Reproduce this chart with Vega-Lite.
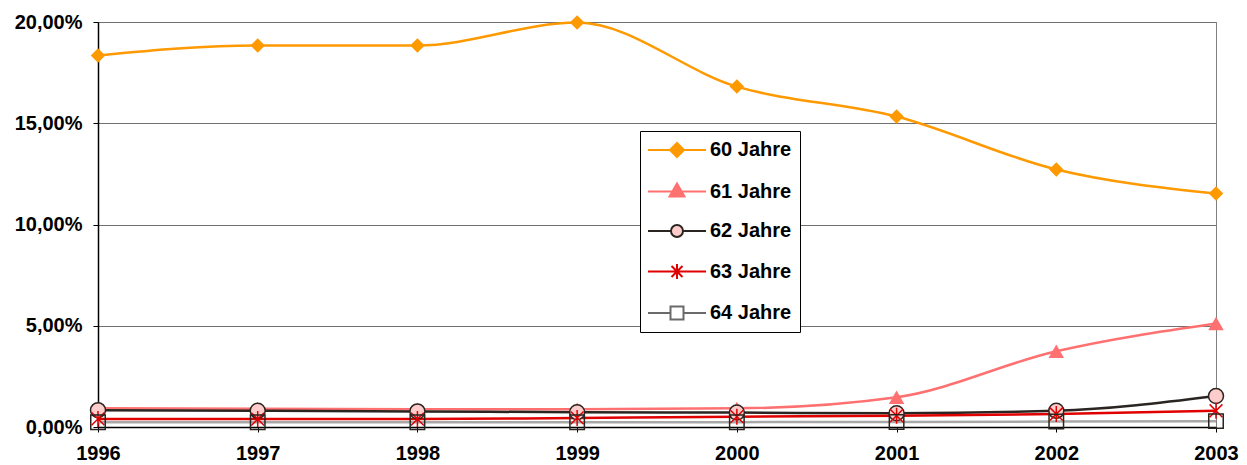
{
  "$schema": "https://vega.github.io/schema/vega-lite/v6.json",
  "width": 1118,
  "height": 405,
  "autosize": {"type": "none"},
  "padding": {"left": 98, "top": 22, "right": 31, "bottom": 38},
  "background": "white",
  "config": {
    "font": "Liberation Sans",
    "view": {"stroke": "#808080", "strokeWidth": 1},
    "axis": {
      "labelFont": "Liberation Sans",
      "labelFontWeight": "bold",
      "labelFontSize": 20,
      "labelColor": "black",
      "domainColor": "black",
      "domainWidth": 1.5,
      "tickColor": "black",
      "tickSize": 5,
      "title": null
    },
    "legend": {
      "orient": "none",
      "legendX": 542,
      "legendY": 109,
      "strokeColor": "black",
      "fillColor": "white",
      "padding": 8,
      "symbolSize": 400,
      "symbolStrokeWidth": 2,
      "rowPadding": 18.5,
      "labelOffset": 40,
      "labelFont": "Liberation Sans",
      "labelFontSize": 20,
      "labelFontWeight": "bold",
      "labelColor": "black",
      "labelLimit": 200
    }
  },
  "data": {
    "values": [
      {"year": "1996", "series": "60 Jahre", "value": 0.1835},
      {"year": "1997", "series": "60 Jahre", "value": 0.1884},
      {"year": "1998", "series": "60 Jahre", "value": 0.1884},
      {"year": "1999", "series": "60 Jahre", "value": 0.1997},
      {"year": "2000", "series": "60 Jahre", "value": 0.1681},
      {"year": "2001", "series": "60 Jahre", "value": 0.1533},
      {"year": "2002", "series": "60 Jahre", "value": 0.1272},
      {"year": "2003", "series": "60 Jahre", "value": 0.1153},
      {"year": "1996", "series": "61 Jahre", "value": 0.0093},
      {"year": "1997", "series": "61 Jahre", "value": 0.0090},
      {"year": "1998", "series": "61 Jahre", "value": 0.0088},
      {"year": "1999", "series": "61 Jahre", "value": 0.0088},
      {"year": "2000", "series": "61 Jahre", "value": 0.0092},
      {"year": "2001", "series": "61 Jahre", "value": 0.0147},
      {"year": "2002", "series": "61 Jahre", "value": 0.0374},
      {"year": "2003", "series": "61 Jahre", "value": 0.0511},
      {"year": "1996", "series": "62 Jahre", "value": 0.0083},
      {"year": "1997", "series": "62 Jahre", "value": 0.0080},
      {"year": "1998", "series": "62 Jahre", "value": 0.0077},
      {"year": "1999", "series": "62 Jahre", "value": 0.0073},
      {"year": "2000", "series": "62 Jahre", "value": 0.0071},
      {"year": "2001", "series": "62 Jahre", "value": 0.0068},
      {"year": "2002", "series": "62 Jahre", "value": 0.0080},
      {"year": "2003", "series": "62 Jahre", "value": 0.0153},
      {"year": "1996", "series": "63 Jahre", "value": 0.0040},
      {"year": "1997", "series": "63 Jahre", "value": 0.0039},
      {"year": "1998", "series": "63 Jahre", "value": 0.0039},
      {"year": "1999", "series": "63 Jahre", "value": 0.0045},
      {"year": "2000", "series": "63 Jahre", "value": 0.0051},
      {"year": "2001", "series": "63 Jahre", "value": 0.0056},
      {"year": "2002", "series": "63 Jahre", "value": 0.0064},
      {"year": "2003", "series": "63 Jahre", "value": 0.0080},
      {"year": "1996", "series": "64 Jahre", "value": 0.0024},
      {"year": "1997", "series": "64 Jahre", "value": 0.0024},
      {"year": "1998", "series": "64 Jahre", "value": 0.0023},
      {"year": "1999", "series": "64 Jahre", "value": 0.0023},
      {"year": "2000", "series": "64 Jahre", "value": 0.0024},
      {"year": "2001", "series": "64 Jahre", "value": 0.0025},
      {"year": "2002", "series": "64 Jahre", "value": 0.0027},
      {"year": "2003", "series": "64 Jahre", "value": 0.0029}
    ]
  },
  "encoding": {
    "x": {
      "field": "year",
      "type": "ordinal",
      "scale": {"type": "point", "padding": 0},
      "axis": {"labelAngle": 0, "labelPadding": 11, "grid": false}
    },
    "y": {
      "field": "value",
      "type": "quantitative",
      "scale": {"domain": [0, 0.2], "nice": false},
      "axis": {
        "values": [0, 0.05, 0.1, 0.15, 0.2],
        "labelExpr": "replace(format(datum.value, '.2%'), '.', ',')",
        "labelPadding": 11,
        "grid": true,
        "gridColor": "#707070",
        "gridWidth": 1
      }
    }
  },
  "layer": [
    {
      "mark": {"type": "line", "interpolate": "monotone", "strokeWidth": 2.5},
      "encoding": {
        "color": {
          "field": "series",
          "type": "nominal",
          "scale": {
            "range": ["#FF9900", "#FF7070", "#2A2520", "#E00000", "#A8A8A8"]
          },
          "legend": null
        },
        "strokeWidth": {
          "field": "series",
          "type": "nominal",
          "scale": {"range": [2.5, 2.5, 2.5, 2.5, 3.5]},
          "legend": null
        }
      }
    },
    {
      "transform": [{"filter": "datum.series === '60 Jahre'"}],
      "mark": {"type": "point", "shape": "diamond", "size": 210, "filled": true, "color": "#FF9900", "opacity": 1}
    },
    {
      "transform": [{"filter": "datum.series === '61 Jahre'"}],
      "mark": {"type": "point", "shape": "triangle-up", "size": 240, "filled": true, "color": "#FF7070", "opacity": 1}
    },
    {
      "transform": [{"filter": "datum.series === '62 Jahre'"}],
      "mark": {"type": "point", "shape": "circle", "size": 225, "filled": true, "fill": "#FFCCCC", "stroke": "#2A2520", "strokeWidth": 1.5, "opacity": 1}
    },
    {
      "transform": [{"filter": "datum.series === '63 Jahre'"}],
      "mark": {"type": "point", "shape": "M0,-1V1M-0.8,-0.8L0.8,0.8M-0.8,0.8L0.8,-0.8", "size": 256, "filled": false, "stroke": "#E00000", "strokeWidth": 1.5, "opacity": 1}
    },
    {
      "transform": [{"filter": "datum.series === '64 Jahre'"}],
      "mark": {"type": "point", "shape": "square", "size": 210, "filled": false, "stroke": "#2A2520", "strokeWidth": 1.5, "opacity": 1}
    },
    {
      "transform": [{"filter": "datum.year === 'none'"}],
      "mark": {"type": "point", "filled": true, "opacity": 1, "strokeWidth": 2},
      "encoding": {
        "shape": {
          "field": "series",
          "type": "nominal",
          "title": null,
          "scale": {
            "domain": ["60 Jahre", "61 Jahre", "62 Jahre", "63 Jahre", "64 Jahre"],
            "range": [
              "M-1.1,0H4.7M1.8,-0.7L2.5,0L1.8,0.7L1.1,0Z",
              "M-1.1,0H4.7M1.8,-0.8L2.55,0.5L1.05,0.5Z",
              "M-1.1,0H1.2M2.4,0H4.7M1.2,0A0.6,0.6 0 1,0 2.4,0A0.6,0.6 0 1,0 1.2,0Z",
              "M-1.1,0H4.7M1.8,-0.75V0.75M1.25,-0.55L2.35,0.55M1.25,0.55L2.35,-0.55",
              "M-1.1,0H1.15M2.45,0H4.7M1.15,-0.65H2.45V0.65H1.15Z"
            ]
          }
        },
        "fill": {
          "field": "series",
          "type": "nominal",
          "title": null,
          "scale": {
            "domain": ["60 Jahre", "61 Jahre", "62 Jahre", "63 Jahre", "64 Jahre"],
            "range": ["#FF9900", "#FF7070", "#FFCCCC", "#E00000", "white"]
          }
        },
        "stroke": {
          "field": "series",
          "type": "nominal",
          "title": null,
          "scale": {
            "domain": ["60 Jahre", "61 Jahre", "62 Jahre", "63 Jahre", "64 Jahre"],
            "range": ["#FF9900", "#FF7070", "#2A2520", "#E00000", "#6A6A6A"]
          }
        }
      }
    }
  ]
}
